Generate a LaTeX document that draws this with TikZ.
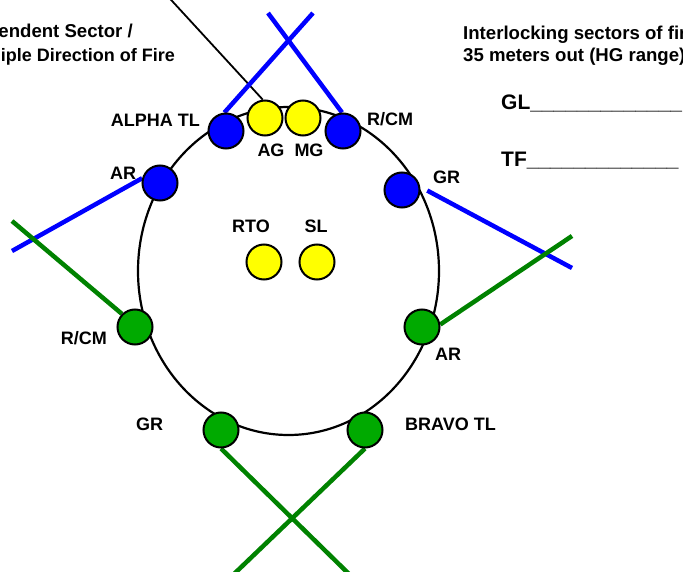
\documentclass[tikz,border=0pt]{standalone}
\usepackage{fontspec}
\setmainfont{Liberation Sans}
\usetikzlibrary{backgrounds}
\definecolor{cblue}{RGB}{0,0,255}
\definecolor{cyellow}{RGB}{255,255,0}
\definecolor{cgreenfill}{RGB}{0,170,0}
\definecolor{cgreenline}{RGB}{0,130,0}
\tikzset{
  member/.style={circle, draw=black, line width=2pt, minimum size=35pt, inner sep=0pt},
  bluem/.style={member, fill=cblue},
  yellowm/.style={member, fill=cyellow},
  greenm/.style={member, fill=cgreenfill},
  lbl/.style={inner sep=0pt, font=\fontsize{18}{22}\selectfont\bfseries},
  titlelbl/.style={inner sep=0pt, font=\fontsize{18.6}{22}\selectfont\bfseries},
  biglbl/.style={inner sep=0pt, font=\fontsize{21}{25}\selectfont\bfseries},
  bluesector/.style={draw=cblue, line width=4.5pt},
  greensector/.style={draw=cgreenline, line width=4.5pt},
  pdfline/.style={draw=black, line width=1.8pt},
  formation/.style={draw=black, line width=2.2pt}
}
\begin{document}
\begin{tikzpicture}[x=1pt,y=-1pt]
\useasboundingbox (0,0) rectangle (683,572);

% members
\node[bluem] (alpha) at (226,131) {};
\node[yellowm] (ag) at (265,118) {};
\node[yellowm] (mg) at (303,118) {};
\node[bluem] (rcmB) at (343,131) {};
\node[bluem] (arB) at (160,183) {};
\node[bluem] (grB) at (402,190) {};
\node[yellowm] (rto) at (264,262) {};
\node[yellowm] (sl) at (317,262) {};
\node[greenm] (rcmG) at (135,327) {};
\node[greenm] (arG) at (422,327) {};
\node[greenm] (grG) at (221,430) {};
\node[greenm] (bravo) at (365,430) {};

% labels
\node[lbl, anchor=base east] (lalpha) at (200,127) {ALPHA TL};
\node[lbl, anchor=base] (lag) at (271,157) {AG};
\node[lbl, anchor=base] (lmg) at (309,157) {MG};
\node[lbl, anchor=base west] (lrcmB) at (367,126) {R/CM};
\node[lbl, anchor=base west] (larB) at (110,180) {AR};
\node[lbl, anchor=base west] (lgrB) at (433,184) {GR};
\node[lbl, anchor=base] (lrto) at (251,233) {RTO};
\node[lbl, anchor=base] (lsl) at (316,233) {SL};
\node[lbl, anchor=base east] (lrcmG) at (107,344) {R/CM};
\node[lbl, anchor=base west] (larG) at (435,360) {AR};
\node[lbl, anchor=base west] (lgrG) at (136,430) {GR};
\node[lbl, anchor=base west] (lbravo) at (405,430) {BRAVO TL};

% titles
\node[titlelbl, anchor=base east] (t1) at (133,38) {endent Sector /};
\node[lbl, anchor=base east] (t2) at (175,62) {iple Direction of Fire};
\node[titlelbl, anchor=base west] (t3) at (463,40) {Interlocking sectors of fir};
\node[titlelbl, anchor=base west] (t4) at (463,62) {35 meters out (HG range)};
\node[biglbl, anchor=base west] (gl) at (501,110) {GL\_\_\_\_\_\_\_\_\_\_\_\_\_};
\node[biglbl, anchor=base west] (tf) at (501,167) {TF\_\_\_\_\_\_\_\_\_\_\_\_\_};

% free ends
\coordinate (k0) at (162,-10);
\coordinate (b1) at (268,13);
\coordinate (b2) at (313,13);
\coordinate (b3) at (12,251);
\coordinate (b4) at (572,268);
\coordinate (g1) at (12,221);
\coordinate (g2) at (572,236);
\coordinate (g3) at (349,574);
\coordinate (g4) at (234,574);

\begin{scope}[on background layer]
  \draw[formation] (288.5,271) ellipse [x radius=150.5, y radius=164];
  \draw[pdfline] (k0) -- (ag.97);
  \draw[bluesector] (b1) -- (rcmB.93);
  \draw[bluesector] (b2) -- (alpha.95);
  \draw[bluesector] (arB.165) -- (b3);
  \draw[bluesector, shorten <=8pt] (grB.10) -- (b4);
  \draw[greensector] (g1) -- (rcmG.135);
  \draw[greensector] (arG.8) -- (g2);
  \draw[greensector] (grG.-90) -- (g3);
  \draw[greensector] (bravo.-90) -- (g4);
\end{scope}
\end{tikzpicture}
\end{document}
